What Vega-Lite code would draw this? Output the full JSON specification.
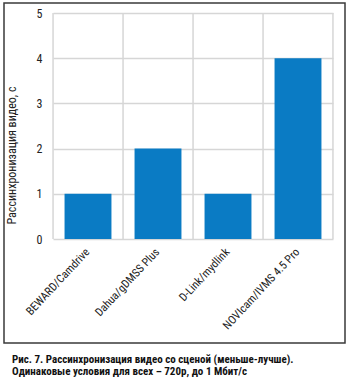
{
  "$schema": "https://vega.github.io/schema/vega-lite/v6.json",
  "width": 341,
  "height": 340,
  "autosize": {"type": "none"},
  "padding": {"left": 4, "top": 3, "right": 6, "bottom": 43},
  "background": "#ffffff",
  "data": {
    "values": [
      {"app": "BEWARD/Camdrive", "delay": 1},
      {"app": "Dahua/gDMSS Plus", "delay": 2},
      {"app": "D-Link/mydlink", "delay": 1},
      {"app": "NOVIcam/IVMS 4.5 Pro", "delay": 4}
    ]
  },
  "title": {
    "text": ["Рис. 7. Рассинхронизация видео со сценой (меньше-лучше).", "Одинаковые условия для всех – 720р, до 1 Мбит/с"],
    "orient": "bottom",
    "anchor": "start",
    "frame": "group",
    "dx": 8,
    "offset": 11,
    "font": "Roboto Condensed, DejaVu Sans Condensed, Liberation Sans, sans-serif",
    "fontSize": 11,
    "fontWeight": "bold",
    "lineHeight": 11.5,
    "color": "#111111"
  },
  "encoding": {
    "x": {
      "field": "app",
      "type": "nominal",
      "sort": null,
      "scale": {"range": [49, 329], "paddingInner": 0.33, "paddingOuter": 0.165},
      "axis": {
        "title": null,
        "orient": "bottom",
        "offset": -104,
        "domain": false,
        "ticks": false,
        "grid": false,
        "labelAngle": -47,
        "labelAlign": "right",
        "labelBaseline": "middle",
        "labelPadding": 11,
        "labelFont": "Roboto Condensed, DejaVu Sans Condensed, Liberation Sans, sans-serif",
        "labelFontSize": 11.5,
        "labelColor": "#222222"
      }
    }
  },
  "layer": [
    {
      "mark": {"type": "rule", "color": "#d6d6d6", "strokeWidth": 1.5, "xOffset": -11.5},
      "encoding": {
        "x": {"field": "app", "type": "nominal", "sort": null, "bandPosition": 0},
        "y": {"datum": 0, "type": "quantitative"},
        "y2": {"datum": 5}
      }
    },
    {
      "transform": [{"filter": "datum.app == 'NOVIcam/IVMS 4.5 Pro'"}],
      "mark": {"type": "rule", "color": "#d6d6d6", "strokeWidth": 1.5, "xOffset": 11.5},
      "encoding": {
        "x": {"field": "app", "type": "nominal", "sort": null, "bandPosition": 1},
        "y": {"datum": 0, "type": "quantitative"},
        "y2": {"datum": 5}
      }
    },
    {
      "mark": {"type": "bar", "color": "#0a7bc4"},
      "encoding": {
        "y": {
          "field": "delay",
          "type": "quantitative",
          "scale": {"domain": [0, 5], "range": [236, 10], "nice": false},
          "axis": {
            "title": "Рассинхронизация видео, с",
            "orient": "left",
            "offset": -49,
            "values": [0, 1, 2, 3, 4, 5],
            "format": "d",
            "domain": false,
            "ticks": false,
            "grid": true,
            "gridColor": "#d6d6d6",
            "gridWidth": 1.5,
            "labelPadding": 11,
            "labelFont": "Roboto Condensed, DejaVu Sans Condensed, Liberation Sans, sans-serif",
            "labelFontSize": 12,
            "labelColor": "#222222",
            "titleFont": "Roboto Condensed, DejaVu Sans Condensed, Liberation Sans, sans-serif",
            "titleFontSize": 12,
            "titleFontWeight": "normal",
            "titleColor": "#222222",
            "titleX": -38,
            "titleY": 152,
            "titleBaseline": "alphabetic"
          }
        }
      }
    }
  ],
  "config": {
    "view": {"stroke": "#3a3a3a", "strokeWidth": 1.5}
  }
}
